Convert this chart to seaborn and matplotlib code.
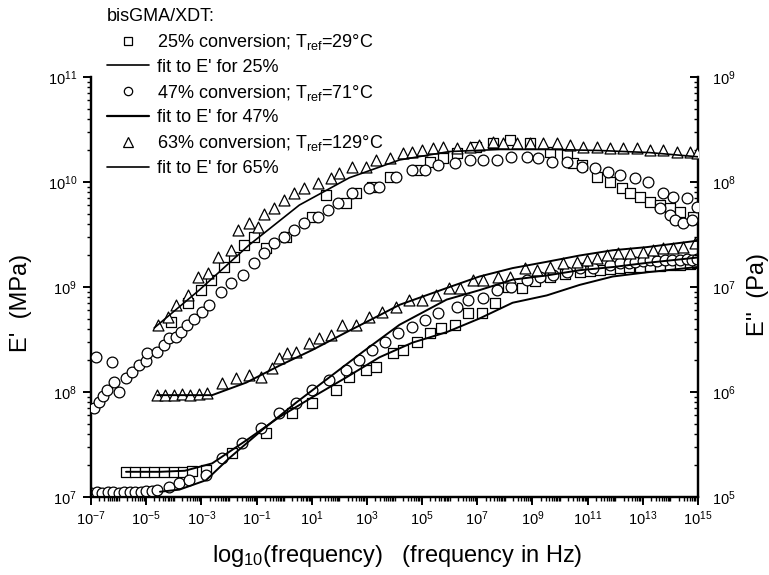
import numpy as np
import pandas as pd
import matplotlib
matplotlib.use("Agg")
import matplotlib.pyplot as plt
from matplotlib.lines import Line2D
from matplotlib.ticker import LogLocator, FixedLocator, LogFormatterSciNotation, NullFormatter
import seaborn as sns

# ---- storage modulus E' (MPa): log10(frequency / Hz), log10(E') ----
lf_ep25 = [-5.73, -5.40, -5.05, -4.70, -4.35, -4.00, -3.65, -3.35, -2.84, -1.88, -0.65, 0.30, 1.02, 1.89,
           2.36, 2.98, 3.34, 3.93, 4.29, 4.80, 5.27, 5.70, 6.18, 6.65, 7.16, 7.63, 8.10, 8.61, 9.10,
           9.62, 10.17, 10.71, 11.10, 11.44, 11.80, 12.17, 12.50, 12.89, 13.25, 13.62, 14.00, 14.35, 14.70, 14.96]
le_ep25 = [7.24, 7.24, 7.24, 7.24, 7.24, 7.24, 7.24, 7.25, 7.26, 7.42, 7.61, 7.80, 7.90, 8.02,
           8.14, 8.21, 8.24, 8.37, 8.40, 8.48, 8.56, 8.61, 8.64, 8.75, 8.75, 8.85, 9.00, 8.99, 9.06,
           9.10, 9.12, 9.14, 9.15, 9.16, 9.17, 9.18, 9.19, 9.19, 9.20, 9.20, 9.21, 9.21, 9.22, 9.23]

lf_ep47 = [-7.00, -6.80, -6.60, -6.40, -6.20, -6.00, -5.80, -5.60, -5.40, -5.20, -5.00, -4.80, -4.60,
           -4.17, -3.81, -3.44, -2.83, -2.25, -1.52, -0.83, -0.18, 0.44, 1.02, 1.64, 2.26, 2.73, 3.20,
           3.64, 4.11, 4.62, 5.09, 5.56, 6.25, 6.65, 7.19, 7.70, 8.24, 8.79, 9.26, 9.73, 10.24, 10.71,
           11.19, 11.80, 12.17, 12.50, 12.71, 13.00, 13.25, 13.50, 13.80, 14.05, 14.35, 14.60, 14.80, 14.96]
le_ep47 = [7.04, 7.05, 7.04, 7.05, 7.05, 7.04, 7.05, 7.05, 7.05, 7.05, 7.06, 7.06, 7.07,
           7.10, 7.13, 7.16, 7.21, 7.37, 7.51, 7.66, 7.80, 7.90, 8.02, 8.11, 8.21, 8.30, 8.40,
           8.48, 8.56, 8.62, 8.69, 8.75, 8.81, 8.88, 8.90, 8.97, 9.00, 9.07, 9.10, 9.11, 9.14, 9.18,
           9.18, 9.21, 9.23, 9.23, 9.24, 9.25, 9.26, 9.25, 9.26, 9.26, 9.26, 9.27, 9.26, 9.27]

lf_ep63 = [-4.60, -4.30, -4.00, -3.70, -3.40, -3.10, -2.80, -2.25, -1.74, -1.27, -0.83, -0.43, -0.18,
           0.11, 0.44, 0.91, 1.28, 1.71, 2.11, 2.62, 3.09, 3.56, 4.07, 4.54, 5.01, 5.52, 5.99, 6.36,
           6.83, 7.19, 7.74, 8.17, 8.72, 9.15, 9.62, 10.10, 10.60, 10.97, 11.33, 11.69, 12.09, 12.53,
           13.00, 13.36, 13.73, 14.09, 14.45, 14.89]
le_ep63 = [7.97, 7.97, 7.97, 7.98, 7.97, 7.98, 7.99, 8.09, 8.13, 8.16, 8.14, 8.23, 8.32,
           8.37, 8.38, 8.47, 8.51, 8.54, 8.64, 8.64, 8.71, 8.76, 8.81, 8.88, 8.88, 8.92, 8.99, 8.99,
           9.07, 9.07, 9.10, 9.10, 9.18, 9.16, 9.19, 9.23, 9.24, 9.26, 9.28, 9.30, 9.32, 9.32,
           9.33, 9.35, 9.37, 9.37, 9.38, 9.42]

# ---- model fits to E' ----
lf_fit25 = [-5.73, -4.50, -3.60, -2.61, -1.37, -0.18, 1.02, 2.26, 3.45, 4.65, 5.89, 7.08, 8.28,
            9.52, 10.71, 11.91, 13.15, 14.96]
le_fit25 = [7.24, 7.24, 7.25, 7.32, 7.54, 7.76, 7.95, 8.14, 8.33, 8.47, 8.57, 8.70, 8.85,
            8.92, 9.02, 9.10, 9.14, 9.19]

lf_fit47 = [-4.50, -3.80, -2.83, -1.99, -0.79, 0.44, 1.64, 2.84, 4.18, 5.89, 7.08, 8.28, 9.52,
            10.71, 11.91, 13.15, 14.96]
le_fit47 = [7.05, 7.07, 7.16, 7.37, 7.64, 7.90, 8.14, 8.38, 8.64, 8.88, 8.97, 9.07, 9.11,
            9.16, 9.19, 9.23, 9.28]

lf_fit63 = [-4.60, -3.50, -2.61, -1.37, -0.18, 1.02, 2.26, 3.45, 4.18, 5.89, 7.08, 8.28, 9.52,
            10.71, 11.91, 13.15, 14.35, 14.96]
le_fit63 = [7.97, 7.97, 7.97, 8.09, 8.25, 8.40, 8.57, 8.73, 8.83, 8.99, 9.10, 9.18, 9.24,
            9.30, 9.35, 9.38, 9.42, 9.44]

# ---- loss modulus E'' (Pa): log10(frequency / Hz), log10(E'') ----
lf_epp25 = [-4.10, -3.48, -3.01, -2.64, -2.17, -1.81, -1.45, -1.08, -0.65, 0.08, 1.02, 1.53, 2.26,
            2.62, 3.20, 3.82, 4.80, 5.27, 5.74, 6.25, 6.97, 7.56, 8.17, 8.90, 9.62, 10.24, 10.46,
            10.79, 11.33, 11.80, 12.24, 12.53, 12.89, 13.25, 13.62, 13.98, 14.35, 14.82]
le_epp25 = [6.67, 6.85, 6.97, 7.07, 7.19, 7.29, 7.40, 7.48, 7.37, 7.48, 7.67, 7.88, 7.80,
            7.90, 7.95, 8.05, 8.11, 8.19, 8.23, 8.28, 8.33, 8.37, 8.40, 8.37, 8.29, 8.26, 8.18,
            8.16, 8.05, 8.00, 7.94, 7.90, 7.86, 7.81, 7.78, 7.75, 7.71, 7.67]

lf_epp47 = [-6.82, -6.24, -6.89, -6.71, -6.56, -6.42, -6.17, -5.98, -5.73, -5.51, -5.26, -5.00, -4.97,
            -4.60, -4.35, -4.17, -3.91, -3.73, -3.52, -3.26, -2.97, -2.72, -2.28, -1.92, -1.48, -1.08,
            -0.72, -0.36, 0.01, 0.37, 0.73, 1.24, 1.60, 1.97, 2.47, 3.09, 3.45, 4.07, 4.62, 5.09,
            5.56, 6.18, 6.72, 7.19, 7.70, 8.24, 8.79, 9.19, 9.70, 10.24, 10.79, 11.26, 11.73, 12.17,
            12.71, 13.18, 13.73, 14.09, 14.60, 14.96, 13.62, 13.98, 14.16, 14.45, 14.78]
le_epp47 = [6.33, 6.29, 5.85, 5.90, 5.96, 6.02, 6.10, 6.00, 6.13, 6.19, 6.26, 6.30, 6.37,
            6.38, 6.45, 6.51, 6.52, 6.57, 6.64, 6.70, 6.76, 6.83, 6.95, 7.04, 7.11, 7.23,
            7.32, 7.42, 7.48, 7.54, 7.61, 7.67, 7.73, 7.80, 7.90, 7.94, 7.95, 8.05, 8.11, 8.11,
            8.16, 8.18, 8.21, 8.21, 8.21, 8.24, 8.24, 8.23, 8.19, 8.19, 8.14, 8.13, 8.10, 8.07,
            8.04, 8.00, 7.90, 7.86, 7.85, 7.76, 7.75, 7.69, 7.64, 7.61, 7.64]

lf_epp63 = [-4.57, -4.21, -3.91, -3.48, -3.12, -2.75, -2.39, -1.92, -1.66, -1.27, -0.94, -0.72, -0.36,
            0.01, 0.37, 0.73, 1.24, 1.71, 2.00, 2.47, 2.98, 3.34, 3.82, 4.29, 4.65, 5.01, 5.38, 5.74,
            6.25, 6.72, 7.08, 7.56, 7.92, 8.43, 8.90, 9.37, 9.88, 10.35, 10.82, 11.33, 11.80, 12.27,
            12.78, 13.25, 13.73, 14.23, 14.71, 14.96]
le_epp63 = [6.64, 6.71, 6.83, 6.92, 7.10, 7.13, 7.29, 7.35, 7.54, 7.61, 7.57, 7.70, 7.75,
            7.83, 7.90, 7.94, 7.99, 8.04, 8.09, 8.14, 8.14, 8.21, 8.23, 8.28, 8.29, 8.30, 8.32, 8.33,
            8.32, 8.33, 8.35, 8.38, 8.37, 8.37, 8.37, 8.37, 8.37, 8.35, 8.33, 8.33, 8.32, 8.32,
            8.32, 8.30, 8.30, 8.29, 8.29, 8.28]

lf_fitpp63 = [-4.71, -3.08, -1.27, 0.55, 2.36, 4.18, 5.99, 7.81, 9.62, 11.44, 13.25, 15.00]
le_fitpp63 = [6.61, 6.97, 7.40, 7.78, 8.04, 8.21, 8.29, 8.31, 8.31, 8.30, 8.28, 8.24]

legend_title = "bisGMA/XDT:"
legend_labels = [
    "25% conversion; T$_{\\mathregular{ref}}$=29°C",
    "fit to E' for 25%",
    "47% conversion; T$_{\\mathregular{ref}}$=71°C",
    "fit to E' for 47%",
    "63% conversion; T$_{\\mathregular{ref}}$=129°C",
    "fit to E' for 65%",
]
x_ticks_exp = [-7, -5, -3, -1, 1, 3, 5, 7, 9, 11, 13, 15]


def frame(lf, le):
    return pd.DataFrame({"f": 10.0 ** np.asarray(lf), "E": 10.0 ** np.asarray(le)})


sns.set_style("ticks")
plt.rcParams["font.family"] = ["Liberation Sans", "DejaVu Sans"]
plt.rcParams["mathtext.fontset"] = "custom"
plt.rcParams["mathtext.rm"] = "Liberation Sans"
plt.rcParams["mathtext.it"] = "Liberation Sans:italic"
plt.rcParams["mathtext.bf"] = "Liberation Sans:bold"
plt.rcParams["axes.linewidth"] = 1.6
for key in ("text.color", "axes.labelcolor", "xtick.color", "ytick.color", "axes.edgecolor"):
    plt.rcParams[key] = "black"

fig = plt.figure(figsize=(7.69, 5.75), dpi=100)
ax = fig.add_axes([91 / 769, 1 - 497 / 575, 607 / 769, 420 / 575])
ax2 = ax.twinx()

mk = dict(color="white", edgecolor="black", linewidth=0.9, legend=False, zorder=3)
sq_s, ci_s, tr_s = 42, 60, 62

# E' data and fits (left axis)
for lf, le, m, s in [(lf_ep25, le_ep25, "s", sq_s), (lf_ep47, le_ep47, "o", ci_s),
                     (lf_ep63, le_ep63, "^", tr_s)]:
    sns.scatterplot(data=frame(lf, le), x="f", y="E", marker=m, s=s, ax=ax, **mk)
for lf, le in [(lf_fit25, le_fit25), (lf_fit47, le_fit47), (lf_fit63, le_fit63)]:
    sns.lineplot(data=frame(lf, le), x="f", y="E", color="black", linewidth=1.4,
                 ax=ax, sort=False, estimator=None, zorder=4)

# E'' data (right axis)
for lf, le, m, s in [(lf_epp25, le_epp25, "s", sq_s), (lf_epp47, le_epp47, "o", ci_s),
                     (lf_epp63, le_epp63, "^", tr_s)]:
    sns.scatterplot(data=frame(lf, le), x="f", y="E", marker=m, s=s, ax=ax2, **mk)
sns.lineplot(data=frame(lf_fitpp63, le_fitpp63), x="f", y="E", color="black", linewidth=1.2,
             ax=ax2, sort=False, estimator=None, zorder=4)

for a in (ax, ax2):
    a.set_xscale("log")
    a.set_yscale("log")
    a.set_xlim(1e-7, 1e15)
    a.set_xlabel("")
    a.set_ylabel("")
ax.set_ylim(1e7, 1e11)
ax2.set_ylim(1e5, 1e9)

# ticks
ax.xaxis.set_major_locator(FixedLocator([10.0 ** e for e in x_ticks_exp]))
ax.xaxis.set_major_formatter(LogFormatterSciNotation())
ax.xaxis.set_minor_locator(LogLocator(base=10, subs=np.arange(1, 10), numticks=100))
ax.xaxis.set_minor_formatter(NullFormatter())
for a in (ax, ax2):
    a.yaxis.set_major_locator(LogLocator(base=10, numticks=10))
    a.yaxis.set_minor_locator(LogLocator(base=10, subs=np.arange(2, 10), numticks=10))
    a.yaxis.set_minor_formatter(NullFormatter())

ax.tick_params(axis="both", which="major", direction="out", length=6, width=1.4,
               labelsize=10.5, pad=3, colors="black")
ax.tick_params(axis="both", which="minor", direction="out", length=3, width=1.0)
ax.tick_params(axis="y", which="major", pad=4)
ax2.tick_params(axis="y", which="major", direction="in", length=6, width=1.4,
                labelsize=10.5, pad=10, colors="black")
ax2.tick_params(axis="y", which="minor", direction="in", length=3, width=1.0)

for a in (ax, ax2):
    a.spines["top"].set_visible(False)
    for sp in ("left", "right", "bottom"):
        a.spines[sp].set_linewidth(1.6)
        a.spines[sp].set_color("black")

# axis titles
ax.set_xlabel("log$_{\\mathregular{10}}$(frequency)   (frequency in Hz)", fontsize=17)
ax.xaxis.set_label_coords(0.504, -0.110)
ax.set_ylabel("E'  (MPa)", fontsize=17)
ax.yaxis.set_label_coords(-0.098, 0.462)
ax2.set_ylabel("E''  (Pa)", fontsize=17)
ax2.yaxis.set_label_coords(1.081, 0.481)

# legend
handles = [
    Line2D([], [], marker="s", linestyle="none", markerfacecolor="white", markeredgecolor="black",
           markersize=5.5, markeredgewidth=0.9),
    Line2D([], [], color="black", linewidth=1.2),
    Line2D([], [], marker="o", linestyle="none", markerfacecolor="white", markeredgecolor="black",
           markersize=6, markeredgewidth=0.9),
    Line2D([], [], color="black", linewidth=1.6),
    Line2D([], [], marker="^", linestyle="none", markerfacecolor="white", markeredgecolor="black",
           markersize=6.5, markeredgewidth=0.9),
    Line2D([], [], color="black", linewidth=1.2),
]
leg = ax2.legend(handles, legend_labels, title=legend_title, loc="upper left",
                 bbox_to_anchor=(107 / 769, 1 - 8 / 575), bbox_transform=fig.transFigure,
                 frameon=False, fontsize=13, title_fontsize=13, handlelength=2.35,
                 handletextpad=0.4, labelspacing=0.38, borderpad=0, borderaxespad=0,
                 alignment="left")
leg.set_zorder(10)

fig.savefig("out.png", dpi=100)
